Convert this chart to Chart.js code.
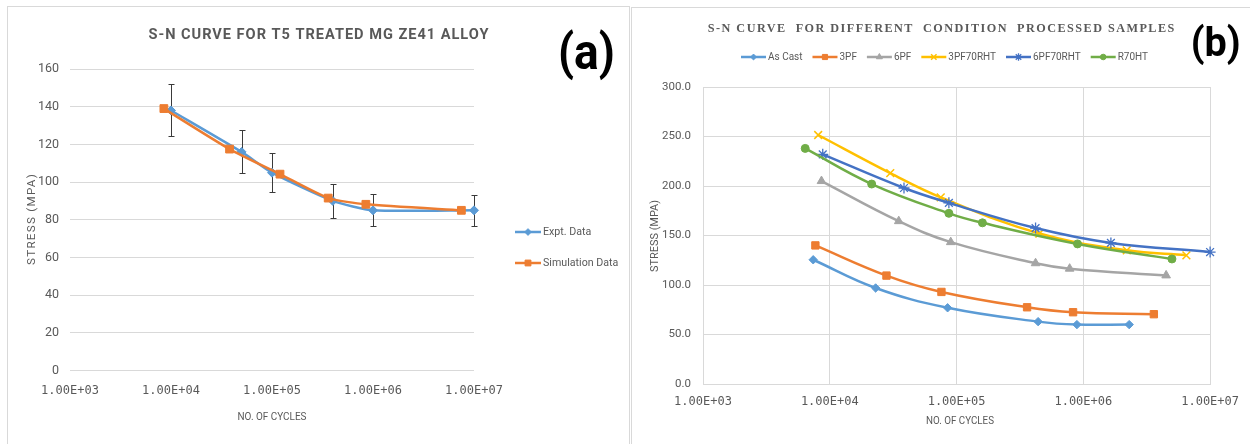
<!DOCTYPE html>
<html>
<head>
<meta charset="utf-8">
<title>S-N curves</title>
<script src="https://cdn.jsdelivr.net/npm/chart.js@4.4.0/dist/chart.umd.min.js"></script>
<style>
  html, body { margin: 0; padding: 0; background: #ffffff; }
  body { width: 1250px; height: 444px; position: relative; overflow: hidden; }
  .frame { position: absolute; border: 1px solid #d9d9d9; box-sizing: border-box; }
  #frameA { left: 7px; top: 6px; width: 623px; height: 470px; }
  #frameB { left: 631px; top: 7px; width: 640px; height: 470px; }
  canvas { position: absolute; top: 0; }
  #chartA { left: 0; }
  #chartB { left: 630px; }
</style>
</head>
<body>
<div class="frame" id="frameA"></div>
<div class="frame" id="frameB"></div>
<canvas id="chartA" width="630" height="444"></canvas>
<canvas id="chartB" width="620" height="444"></canvas>
<script>
// ---- shared axis ticks ----
const xTickValues = [1e3, 1e4, 1e5, 1e6, 1e7];
const xTickLabels = ['1.00E+03', '1.00E+04', '1.00E+05', '1.00E+06', '1.00E+07'];
const yTicksA = [0, 20, 40, 60, 80, 100, 120, 140, 160];
const yTickLabelsA = ['0', '20', '40', '60', '80', '100', '120', '140', '160'];
const yTicksB = [0, 50, 100, 150, 200, 250, 300];
const yTickLabelsB = ['0.0', '50.0', '100.0', '150.0', '200.0', '250.0', '300.0'];

// ---- (a) T5 treated Mg ZE41 alloy ----
const cyclesExpt = [1.0e4, 5.0e4, 1.0e5, 4.0e5, 1.0e6, 1.0e7];
const stressExpt = [138, 116, 105, 90, 85, 85];
const errorExpt = [13.8, 11.4, 10.3, 9.0, 8.4, 8.2];
const cyclesSim = [8.5e3, 3.8e4, 1.2e5, 3.6e5, 8.5e5, 7.5e6];
const stressSim = [139, 117.5, 104.2, 91.5, 88.2, 85];

// ---- (b) different processing conditions ----
const cyclesAsCast = [7.4e3, 2.3e4, 8.5e4, 4.4e5, 8.9e5, 2.3e6];
const stressAsCast = [125.5, 97, 77, 63, 60, 60];
const cycles3PF = [7.7e3, 2.8e4, 7.6e4, 3.6e5, 8.3e5, 3.6e6];
const stress3PF = [140, 109.5, 93, 77.5, 72.5, 70.5];
const cycles6PF = [8.6e3, 3.5e4, 9.0e4, 4.2e5, 7.8e5, 4.5e6];
const stress6PF = [205, 164.5, 143.3, 122, 116.5, 109.7];
const cycles3PF70RHT = [8.1e3, 3.0e4, 7.5e4, 4.5e5, 2.2e6, 6.5e6];
const stress3PF70RHT = [251.5, 213, 188.5, 152, 135, 130];
const cycles6PF70RHT = [8.8e3, 3.85e4, 8.7e4, 4.2e5, 1.65e6, 1.0e7];
const stress6PF70RHT = [232, 198, 183, 157.5, 142.5, 133.3];
const cyclesR70HT = [6.4e3, 2.14e4, 8.7e4, 1.6e5, 9.0e5, 5.0e6];
const stressR70HT = [238, 202, 172.4, 162.8, 141.5, 126.3];

const TEXT = '#595959';
const GRID = '#d9d9d9';
Chart.defaults.font.family = 'Roboto';

const pts = (xs, ys) => xs.map((x, i) => ({ x: x, y: ys[i] }));

function series(label, xs, ys, color, style, radius, order, extra) {
  return Object.assign({
    label: label,
    data: pts(xs, ys),
    borderColor: color,
    backgroundColor: color,
    pointBackgroundColor: color,
    pointBorderColor: color,
    pointStyle: style,
    pointRadius: radius,
    pointBorderWidth: 1,
    borderWidth: 2.5,
    tension: 0.4,
    clip: false,
    order: order
  }, extra || {});
}

function logAxis(showGrid, pad) {
  return {
    type: 'logarithmic',
    min: 1e3,
    max: 1e7,
    afterBuildTicks: s => { s.ticks = xTickValues.map(v => ({ value: v })); },
    afterFit: s => { s.height = 30; },
    grid: { display: showGrid, color: GRID, drawTicks: false },
    border: { display: showGrid, color: GRID },
    ticks: {
      autoSkip: false, maxRotation: 0, minRotation: 0, padding: pad, color: TEXT,
      font: { family: 'DejaVu Sans Mono', size: 12 },
      callback: (v, i) => xTickLabels[i]
    }
  };
}

function valueAxis(values, labels, max, width, pad, fontSize, showBorder) {
  return {
    min: 0,
    max: max,
    afterBuildTicks: s => { s.ticks = values.map(v => ({ value: v })); },
    afterFit: s => { s.width = width; },
    grid: { color: GRID, drawTicks: false },
    border: { display: showBorder, color: GRID },
    ticks: {
      padding: pad, color: TEXT,
      font: { family: 'Roboto', size: fontSize },
      callback: (v, i) => labels[i]
    }
  };
}

// free text: titles, axis titles, panel letters
function textPlugin(items) {
  return {
    id: 'panelText',
    afterDraw(chart) {
      const ctx = chart.ctx;
      items.forEach(t => {
        ctx.save();
        ctx.font = t.font;
        ctx.fillStyle = t.color || TEXT;
        ctx.textAlign = 'center';
        ctx.textBaseline = 'middle';
        if ('letterSpacing' in ctx) ctx.letterSpacing = (t.spacing || 0) + 'px';
        const w = ctx.measureText(t.text).width;
        ctx.translate(t.x, t.y);
        if (t.rotate) ctx.rotate(t.rotate);
        if (t.width) ctx.scale(t.width / w, 1);
        ctx.fillText(t.text, 0, 0);
        ctx.restore();
      });
    }
  };
}

// legend entries drawn as line + marker samples
function legendPlugin(o) {
  return {
    id: 'sampleLegend',
    afterDraw(chart) {
      const ctx = chart.ctx;
      const sets = chart.data.datasets;
      ctx.save();
      ctx.font = o.font;
      ctx.textBaseline = 'middle';
      ctx.textAlign = 'left';
      const widths = sets.map(ds => ctx.measureText(ds.label).width * o.squeeze);
      let x = o.x, y = o.y;
      if (!o.vertical) {
        const total = widths.reduce((a, b) => a + b, 0) +
          sets.length * (o.lineLen + o.textGap) + (sets.length - 1) * o.itemGap;
        x = o.cx - total / 2;
      }
      sets.forEach((ds, i) => {
        ctx.strokeStyle = ds.borderColor;
        ctx.lineWidth = o.lineWidth;
        ctx.beginPath();
        ctx.moveTo(x, y);
        ctx.lineTo(x + o.lineLen, y);
        ctx.stroke();
        ctx.fillStyle = ds.pointBackgroundColor;
        ctx.strokeStyle = ds.pointBorderColor;
        ctx.lineWidth = ds.pointBorderWidth;
        Chart.helpers.drawPoint(ctx, {
          pointStyle: ds.pointStyle, rotation: 0,
          radius: ds.pointRadius * o.markerScale, borderWidth: ds.pointBorderWidth
        }, x + o.lineLen / 2, y);
        ctx.fillStyle = TEXT;
        ctx.save();
        ctx.translate(x + o.lineLen + o.textGap, y);
        ctx.scale(o.squeeze, 1);
        ctx.fillText(ds.label, 0, 0);
        ctx.restore();
        if (o.vertical) y += o.step;
        else x += o.lineLen + o.textGap + widths[i] + o.itemGap;
      });
      ctx.restore();
    }
  };
}

// +/- scatter bars on the experimental points
const errorBarPlugin = {
  id: 'errorBars',
  beforeDatasetsDraw(chart) {
    const ctx = chart.ctx;
    const xs = chart.scales.x, ys = chart.scales.y;
    ctx.save();
    ctx.strokeStyle = '#3a3a3a';
    ctx.lineWidth = 1;
    cyclesExpt.forEach((c, i) => {
      const px = Math.round(xs.getPixelForValue(c)) + 0.5;
      const top = Math.round(ys.getPixelForValue(stressExpt[i] + errorExpt[i])) + 0.5;
      const bot = Math.round(ys.getPixelForValue(stressExpt[i] - errorExpt[i])) + 0.5;
      ctx.beginPath();
      ctx.moveTo(px, top); ctx.lineTo(px, bot);
      ctx.moveTo(px - 3, top); ctx.lineTo(px + 3, top);
      ctx.moveTo(px - 3, bot); ctx.lineTo(px + 3, bot);
      ctx.stroke();
    });
    ctx.restore();
  }
};

const common = {
  responsive: false,
  animation: false,
  events: [],
  devicePixelRatio: 1,
  plugins: { legend: { display: false }, tooltip: { enabled: false }, title: { display: false } }
};

// ---------- chart (a) ----------
new Chart(document.getElementById('chartA'), {
  type: 'line',
  data: {
    datasets: [
      series('Expt. Data', cyclesExpt, stressExpt, '#5b9bd5', 'rectRot', 4.5, 2, { tension: 0.2 }),
      series('Simulation Data', cyclesSim, stressSim, '#ed7d31', 'rect', 5.5, 1, { tension: 0.2 })
    ]
  },
  options: Object.assign({}, common, {
    layout: { padding: { left: 0, top: 69, right: 156, bottom: 43.5 } },
    scales: {
      x: logAxis(false, 13),
      y: valueAxis(yTicksA, yTickLabelsA, 160, 70, 11, 12.5, false)
    }
  }),
  plugins: [
    errorBarPlugin,
    textPlugin([
      { text: 'S-N CURVE FOR T5 TREATED MG ZE41 ALLOY', x: 319, y: 35, font: 'bold 15px Roboto', spacing: 1, width: 341 },
      { text: '(a)', x: 586.5, y: 56, font: 'bold 50px Roboto', width: 57, color: '#000000' },
      { text: 'STRESS (MPA)', x: 32, y: 219, rotate: -Math.PI / 2, font: '11px Roboto', spacing: 1.2, width: 92 },
      { text: 'NO. OF CYCLES', x: 272, y: 417, font: '11px Roboto', width: 69 }
    ]),
    legendPlugin({ vertical: true, x: 515, y: 232, step: 31, lineLen: 26, lineWidth: 2.5, textGap: 2,
      font: '11px Roboto', squeeze: 0.97, markerScale: 0.75 })
  ]
});

// ---------- chart (b) ----------
new Chart(document.getElementById('chartB'), {
  type: 'line',
  data: {
    datasets: [
      series('As Cast', cyclesAsCast, stressAsCast, '#5b9bd5', 'rectRot', 4.2, 6),
      series('3PF', cycles3PF, stress3PF, '#ed7d31', 'rect', 5.2, 5),
      series('6PF', cycles6PF, stress6PF, '#a5a5a5', 'triangle', 5, 4),
      series('3PF70RHT', cycles3PF70RHT, stress3PF70RHT, '#ffc000', 'crossRot', 5.5, 3, { pointBorderWidth: 1.5 }),
      series('6PF70RHT', cycles6PF70RHT, stress6PF70RHT, '#4472c4', 'star', 5.5, 2, { pointBorderWidth: 1.3 }),
      series('R70HT', cyclesR70HT, stressR70HT, '#70ad47', 'circle', 4, 1)
    ]
  },
  options: Object.assign({}, common, {
    layout: { padding: { left: 0, top: 87, right: 33, bottom: 30 } },
    scales: {
      x: logAxis(true, 11),
      y: valueAxis(yTicksB, yTickLabelsB, 300, 73, 12, 11.5, true)
    }
  }),
  plugins: [
    textPlugin([
      { text: 'S-N CURVE  FOR DIFFERENT  CONDITION  PROCESSED SAMPLES', x: 311.8, y: 28.3, font: 'bold 12.5px "Liberation Serif"', spacing: 1.5, width: 468 },
      { text: '(b)', x: 585.7, y: 45.5, font: 'bold 41px Roboto', width: 50, color: '#000000' },
      { text: 'STRESS (MPA)', x: 25, y: 236, rotate: -Math.PI / 2, font: '10.5px Roboto', width: 72 },
      { text: 'NO. OF CYCLES', x: 330, y: 421.7, font: '10.5px Roboto', width: 68 }
    ]),
    legendPlugin({ vertical: false, cx: 314.5, y: 57, lineLen: 25, lineWidth: 2.5, textGap: 2, itemGap: 10,
      font: '10.5px Roboto', squeeze: 0.95, markerScale: 0.7 })
  ]
});
</script>
</body>
</html>
